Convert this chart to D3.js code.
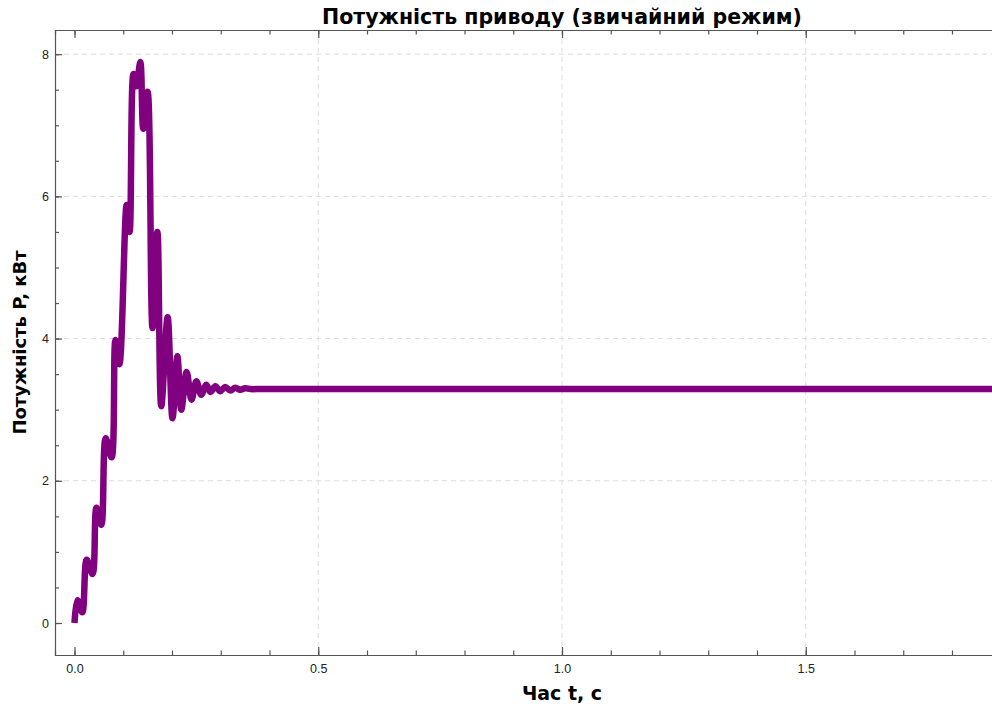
<!DOCTYPE html>
<html>
<head>
<meta charset="utf-8">
<script src="https://cdn.jsdelivr.net/npm/d3@7"></script>
<style>
  body { margin: 0; background: #fff; }
  svg { display: block; font-family: "DejaVu Sans", sans-serif; }
  .tick text { font-size: 12.5px; fill: #222; }
  .axis path, .axis line { stroke: #555; }
  .grid line { stroke: #ddd; stroke-dasharray: 5 4; }
</style>
</head>
<body>
<div id="vis"></div>
<script>
// time (s) and power (kW)
const timeValues = [
  0.000, 0.006, 0.016, 0.025, 0.037, 0.045, 0.055, 0.064, 0.076, 0.084,
  0.092, 0.107, 0.113, 0.121, 0.127, 0.135, 0.141, 0.150, 0.160, 0.170,
  0.178, 0.191, 0.201, 0.211, 0.219, 0.230, 0.240, 0.250, 0.260, 0.270,
  0.279, 0.289, 0.299, 0.309, 0.320, 0.330, 0.340, 0.350, 0.361, 0.381,
  0.45, 1.0, 1.5, 2.0
];
const powerValues = [
  0.00, 0.32, 0.15, 0.89, 0.69, 1.62, 1.38, 2.60, 2.33, 3.98,
  3.64, 5.88, 5.50, 7.72, 7.55, 7.89, 6.95, 7.47, 4.15, 5.50,
  3.05, 4.30, 2.88, 3.75, 3.00, 3.53, 3.14, 3.40, 3.21, 3.35,
  3.25, 3.33, 3.26, 3.32, 3.27, 3.31, 3.28, 3.30, 3.29, 3.29,
  3.29, 3.29, 3.29, 3.29
];
const xMajorTicks = [0, 0.5, 1.0, 1.5, 2.0];
const xLabelTicks = [0, 0.5, 1.0, 1.5];
const xMinorTicks = d3.range(0, 2.05, 0.1);
const yMajorTicks = [0, 2, 4, 6, 8];
const yMinorTicks = d3.range(0, 8.01, 0.5);

const W = 992, H = 715;
const plot = {left: 55, right: 1069, top: 30, bottom: 655};

const svg = d3.select('#vis')
    .append('svg')
    .attr('width', W)
    .attr('height', H);

const xScale = d3.scaleLinear().domain([-0.04, 2.04]).range([plot.left, plot.right]);
const yScale = d3.scaleLinear().domain([-0.45, 8.34]).range([plot.bottom, plot.top]);

svg.append("clipPath").attr("id", "clip")
  .append("rect")
    .attr("x", plot.left).attr("y", plot.top)
    .attr("width", plot.right - plot.left).attr("height", plot.bottom - plot.top);

// grid
const grid = svg.append("g").attr("class", "grid");
grid.selectAll(".gx")
    .data(xMajorTicks.filter(d => d !== 0))
    .join("line")
    .attr("x1", d => xScale(d)).attr("x2", d => xScale(d))
    .attr("y1", plot.top).attr("y2", plot.bottom);
grid.selectAll(".gy")
    .data(yMajorTicks.filter(d => d !== 0))
    .join("line")
    .attr("x1", plot.left).attr("x2", plot.right)
    .attr("y1", d => yScale(d)).attr("y2", d => yScale(d));

// line
const data = timeValues.map((t, i) => ({t, p: powerValues[i]}));
const line = d3.line()
    .x(d => xScale(d.t))
    .y(d => yScale(d.p))
    .curve(d3.curveCatmullRom.alpha(0.5));

svg.append("path")
    .datum(data)
    .attr("clip-path", "url(#clip)")
    .attr("fill", "none")
    .attr("stroke", "#800080")
    .attr("stroke-width", 6.5)
    .attr("stroke-linejoin", "round")
    .attr("stroke-linecap", "butt")
    .attr("d", line);

// axes (ticks pointing inside)
function addAxis(axis, transform) {
  const g = svg.append("g").attr("class", "axis").attr("transform", transform).call(axis);
  g.selectAll("path, line").attr("stroke-width", 1.2);
  return g;
}
addAxis(d3.axisBottom(xScale).tickValues(xMinorTicks).tickSize(-4.5).tickFormat(""),
  `translate(0,${plot.bottom})`);
addAxis(d3.axisBottom(xScale).tickValues(xMajorTicks).tickSize(-8).tickFormat(""),
  `translate(0,${plot.bottom})`).select(".domain").remove();
addAxis(d3.axisBottom(xScale).tickValues(xLabelTicks).tickSize(0)
    .tickPadding(9).tickFormat(d3.format(".1f")),
  `translate(0,${plot.bottom})`).select(".domain").remove();
addAxis(d3.axisTop(xScale).tickValues(xMinorTicks).tickSize(-4.5).tickFormat(""),
  `translate(0,${plot.top})`);
addAxis(d3.axisTop(xScale).tickValues(xMajorTicks).tickSize(-8).tickFormat(""),
  `translate(0,${plot.top})`).select(".domain").remove();
addAxis(d3.axisLeft(yScale).tickValues(yMinorTicks).tickSize(-4).tickFormat(""),
  `translate(${plot.left},0)`);
const yAxisGroup = addAxis(d3.axisLeft(yScale).tickValues(yMajorTicks).tickSizeInner(-7).tickSizeOuter(0)
    .tickPadding(5).tickFormat(d3.format("d")),
  `translate(${plot.left},0)`);
yAxisGroup.select(".domain").remove();
yAxisGroup.selectAll(".tick text").attr("x", -6);
svg.append("line")
    .attr("x1", plot.right).attr("x2", plot.right)
    .attr("y1", plot.top).attr("y2", plot.bottom)
    .attr("stroke", "#555").attr("stroke-width", 1.2);

// labels
const cx = (plot.left + plot.right) / 2;
svg.append("text")
    .attr("x", cx).attr("y", 24)
    .attr("text-anchor", "middle")
    .attr("font-weight", "bold").attr("font-size", 20.5)
    .text("Потужність приводу (звичайний режим)");
svg.append("text")
    .attr("x", cx).attr("y", 700)
    .attr("text-anchor", "middle")
    .attr("font-weight", "bold").attr("font-size", 19)
    .text("Час t, с");
svg.append("text")
    .attr("transform", `translate(26,${(plot.top + plot.bottom) / 2}) rotate(-90)`)
    .attr("text-anchor", "middle")
    .attr("font-weight", "bold").attr("font-size", 18)
    .text("Потужність P, кВт");
</script>
</body>
</html>
